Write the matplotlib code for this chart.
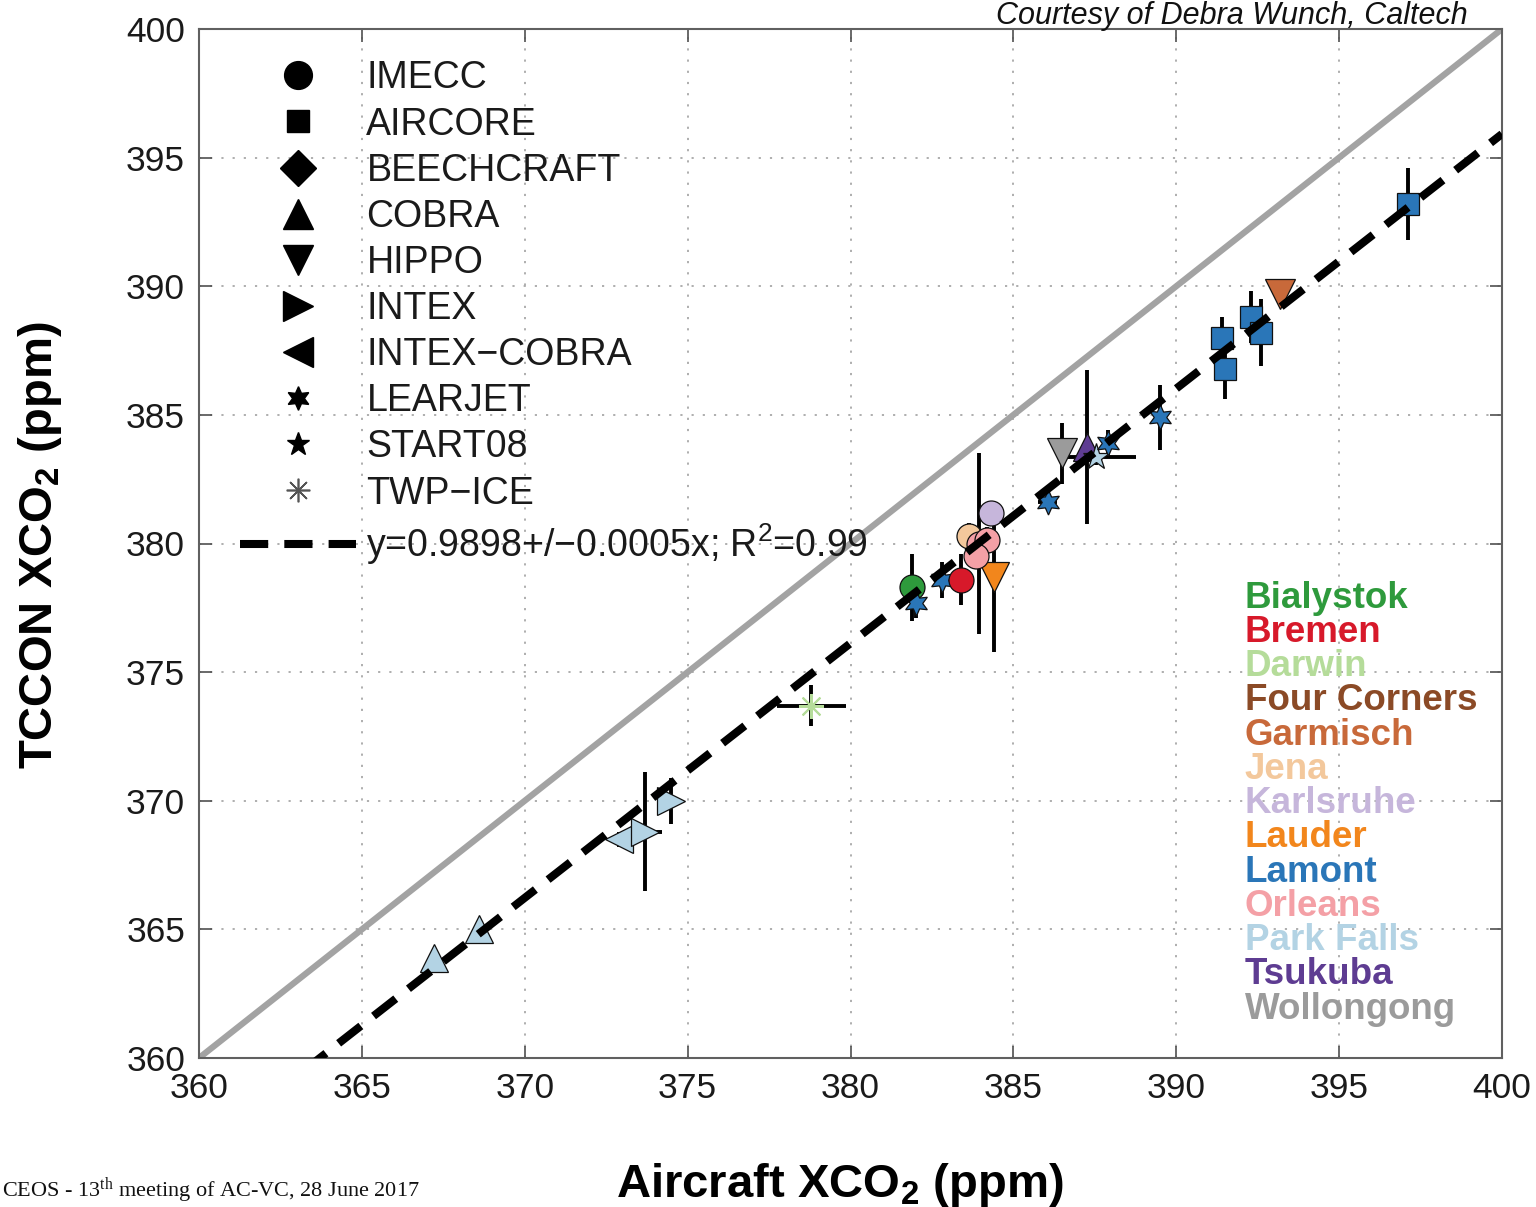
import matplotlib
matplotlib.use('Agg')
import matplotlib.pyplot as plt
from matplotlib.lines import Line2D
import numpy as np

plt.rcParams['font.family'] = ['Liberation Sans', 'DejaVu Sans']
plt.rcParams['mathtext.default'] = 'regular'

# ---------------- data ----------------
campaigns = ['IMECC', 'AIRCORE', 'BEECHCRAFT', 'COBRA', 'HIPPO', 'INTEX',
             'INTEX\u2212COBRA', 'LEARJET', 'START08', 'TWP\u2212ICE']
campaign_markers = ['o', 's', 'D', '^', 'v', '>', '<', (6, 1, 0), '*', (8, 2, 0)]

sites = ['Bialystok', 'Bremen', 'Darwin', 'Four Corners', 'Garmisch', 'Jena',
         'Karlsruhe', 'Lauder', 'Lamont', 'Orleans', 'Park Falls', 'Tsukuba',
         'Wollongong']
site_colors = ['#2e9a3c', '#d7192a', '#b5dc9a', '#8b4a26', '#c8693a', '#f3c89c',
               '#c6b6db', '#f2861c', '#2a76b8', '#f4a0a6', '#b3d3e4', '#5e3c92',
               '#9b9b9b']

pt_site = ['Park Falls', 'Park Falls', 'Park Falls', 'Park Falls', 'Park Falls',
           'Darwin', 'Bialystok', 'Lamont', 'Lamont', 'Bremen', 'Lauder',
           'Jena', 'Orleans', 'Orleans', 'Orleans', 'Karlsruhe', 'Lamont',
           'Wollongong', 'Tsukuba', 'Park Falls', 'Lamont', 'Lamont',
           'Lamont', 'Lamont', 'Lamont', 'Lamont', 'Garmisch', 'Lamont']
pt_campaign = ['COBRA', 'COBRA', 'INTEX\u2212COBRA', 'INTEX', 'INTEX',
               'TWP\u2212ICE', 'IMECC', 'LEARJET', 'LEARJET', 'IMECC', 'HIPPO',
               'IMECC', 'IMECC', 'IMECC', 'IMECC', 'IMECC', 'LEARJET',
               'HIPPO', 'COBRA', 'START08', 'LEARJET', 'LEARJET',
               'AIRCORE', 'AIRCORE', 'AIRCORE', 'AIRCORE', 'HIPPO', 'AIRCORE']
pt_x = [367.2, 368.6, 372.9, 373.7, 374.5,
        378.8, 381.9, 382.0, 382.8, 383.4, 384.4,
        383.65, 383.95, 384.2, 383.85, 384.3, 386.05,
        386.5, 387.25, 387.55, 387.9, 389.5,
        391.4, 391.5, 392.3, 392.6, 393.2, 397.1]
pt_y = [363.9, 365.0, 368.5, 368.8, 370.0,
        373.7, 378.3, 377.7, 378.6, 378.6, 378.7,
        380.3, 380.0, 380.15, 379.5, 381.2, 381.6,
        383.5, 383.75, 383.35, 383.9, 384.9,
        388.0, 386.8, 388.8, 388.2, 389.7, 393.2]
pt_xerr = [0.0, 0.0, 0.0, 0.5, 0.0,
           1.05, 0.0, 0.0, 0.0, 0.0, 0.0,
           0.0, 0.0, 0.0, 0.0, 0.0, 0.3,
           0.0, 0.0, 1.2, 0.0, 0.0,
           0.0, 0.0, 0.0, 0.0, 0.0, 0.0]
pt_yerr = [0.3, 0.4, 0.3, 2.3, 0.9,
           0.8, 1.3, 0.6, 0.7, 1.0, 2.9,
           0.5, 3.5, 0.5, 0.5, 0.4, 0.3,
           1.2, 3.0, 0.3, 0.5, 1.25,
           0.8, 1.2, 1.0, 1.3, 0.2, 1.4]

fit_slope = 0.9898
fit_label = 'y=0.9898+/\u22120.0005x; R$^2$=0.99'
axis_range = [360, 400]
ticks = [360, 365, 370, 375, 380, 385, 390, 395, 400]

# ---------------- styling maps ----------------
data_ms = {'o': 18, 's': 16, 'D': 14, '^': 20, 'v': 21, '>': 20, '<': 20,
           (6, 1, 0): 18, '*': 20, (8, 2, 0): 18}
leg_ms = {'o': 20, 's': 16, 'D': 18, '^': 22, 'v': 22, '>': 22, '<': 22,
          (6, 1, 0): 17, '*': 17, (8, 2, 0): 17}

fig = plt.figure(figsize=(15.36, 12.07), dpi=100)
ax = fig.add_axes([199 / 1536, 1 - 1058 / 1207, 1303 / 1536, 1029 / 1207])

ax.set_xlim(axis_range)
ax.set_ylim(axis_range)
ax.set_xticks(ticks)
ax.set_yticks(ticks)
ax.grid(True, linestyle=(0, (1.2, 5)), color='#a8a8a8', lw=1.3, zorder=0)
ax.set_axisbelow(True)
for s in ax.spines.values():
    s.set_color('#606060')
    s.set_linewidth(1.5)
ax.tick_params(direction='in', top=True, right=True, length=9, width=1.2,
               color='#505050', labelsize=25.5, labelcolor='#1a1a1a', pad=10)

# 1:1 line
ax.plot(axis_range, axis_range, color='#a3a3a3', lw=4.5, zorder=1.5,
        solid_capstyle='butt')

# data
cmap = dict(zip(sites, site_colors))
mmap = dict(zip(campaigns, campaign_markers))
for s, c, x, y, xe, ye in zip(pt_site, pt_campaign, pt_x, pt_y, pt_xerr, pt_yerr):
    m = mmap[c]
    col = cmap[s]
    ax.errorbar([x], [y], xerr=[xe] if xe > 0 else None, yerr=[ye] if ye > 0 else None,
                fmt='none', ecolor='black', elinewidth=2.8, capsize=0, zorder=2)
    if m == (8, 2, 0):
        ax.plot([x], [y], linestyle='none', marker=m, markersize=data_ms[m],
                markeredgecolor=col, markeredgewidth=1.5, zorder=3)
    else:
        ax.plot([x], [y], linestyle='none', marker=m, markersize=data_ms[m],
                markerfacecolor=col, markeredgecolor='#111111',
                markeredgewidth=0.9, zorder=3)

# fit line
fx = np.array(axis_range, dtype=float)
fit_line, = ax.plot(fx, fit_slope * fx, color='black', lw=5.8,
                    dashes=(3.5, 2.0), dash_capstyle='butt', zorder=4,
                    label=fit_label)

# marker legend
handles = []
for c, m in zip(campaigns, campaign_markers):
    if m == (8, 2, 0):
        h = Line2D([], [], linestyle='none', marker=m, markersize=leg_ms[m],
                   markeredgecolor='#555555', markeredgewidth=1.2, label=c)
    else:
        h = Line2D([], [], linestyle='none', marker=m, markersize=leg_ms[m],
                   markerfacecolor='black', markeredgecolor='black', label=c)
    handles.append(h)
handles.append(fit_line)
leg = ax.legend(handles=handles, loc='upper left', bbox_to_anchor=(0.0315, 0.9695),
                frameon=False, fontsize=27, handlelength=3.1, handletextpad=0.27,
                labelspacing=0.27, borderpad=0, borderaxespad=0)
for t in leg.get_texts():
    t.set_color('#1a1a1a')

# site labels
for i, (name, col) in enumerate(zip(sites, site_colors)):
    ax.text(0.8027, 0.447 - i * 0.0333, name, transform=ax.transAxes,
            color=col, fontsize=26.5, fontweight='bold', va='center', ha='left',
            zorder=5)

# axis labels
fig.text(840 / 1536, (1207 - 1197) / 1207, 'Aircraft XCO$_2$ (ppm)',
         fontsize=34, fontweight='bold', ha='center', va='baseline')
fig.text(40 / 1536, 1 - 545 / 1207, 'TCCON XCO$_2$ (ppm)', rotation=90,
         fontsize=34, fontweight='bold', ha='center', va='center')

# header / footer text
fig.text(1468 / 1536, 1 - 1 / 1207, 'Courtesy of Debra Wunch, Caltech',
         fontsize=22, style='italic', ha='right', va='top', color='#111111')
fig.text(2 / 1536, 1 / 1207, 'CEOS - 13$^{th}$ meeting of AC-VC, 28 June 2017',
         fontsize=16, family='Liberation Serif', ha='left', va='bottom',
         color='#111111')

fig.savefig('out.png', dpi=100)
